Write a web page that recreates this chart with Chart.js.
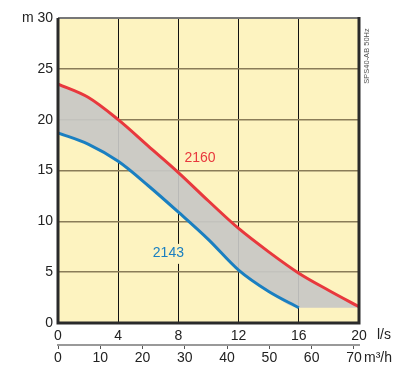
<!DOCTYPE html>
<html>
<head>
<meta charset="utf-8">
<script src="https://cdn.jsdelivr.net/npm/chart.js@4"></script>
<style>
  html, body { margin: 0; padding: 0; background: #fff; }
  canvas { display: block; }
</style>
</head>
<body>
<canvas id="myChart" width="410" height="365"></canvas>
<script>
// flow in l/s
const flow = [0, 2, 4, 6, 8, 10, 12, 14, 16, 18, 20];
const head2160 = [23.5, 22.2, 20.0, 17.4, 14.8, 12.0, 9.3, 7.0, 4.9, 3.2, 1.6];
const flow2143 = [0, 2, 4, 6, 8, 10, 12, 14, 16];
const head2143 = [18.7, 17.6, 15.9, 13.5, 10.9, 8.2, 5.2, 3.1, 1.5];
// lower edge of the grey band after the 2143 curve ends
const bandFlow = [0, 2, 4, 6, 8, 10, 12, 14, 16, 18, 20];
const bandLow = [18.7, 17.6, 15.9, 13.5, 10.9, 8.2, 5.2, 3.1, 1.5, 1.5, 1.5];
// second flow axis, m3/h
const m3hTicks = [0, 10, 20, 30, 40, 50, 60, 70];

const toPts = (xs, ys) => xs.map((x, i) => ({ x: x, y: ys[i] }));

const font = { family: 'Liberation Sans, Arial, sans-serif', size: 14 };

const extras = {
  id: 'extras',
  afterDraw(chart) {
    const ctx = chart.ctx;
    const a = chart.chartArea;
    const x = chart.scales.x;
    const y = chart.scales.y;
    ctx.save();
    // frame
    ctx.strokeStyle = '#777';
    ctx.lineWidth = 2;
    ctx.beginPath();
    ctx.moveTo(a.left, a.top);
    ctx.lineTo(a.right, a.top);
    ctx.stroke();
    ctx.strokeStyle = '#2a2a2a';
    ctx.lineWidth = 3;
    ctx.beginPath();
    ctx.moveTo(a.left, a.top);
    ctx.lineTo(a.left, a.bottom);
    ctx.lineTo(a.right, a.bottom);
    ctx.lineTo(a.right, a.top - 1);
    ctx.stroke();

    // curve names
    ctx.font = '14px Liberation Sans, Arial, sans-serif';
    ctx.textAlign = 'left';
    ctx.textBaseline = 'middle';
    ctx.fillStyle = '#e8383d';
    ctx.fillText('2160', x.getPixelForValue(8.4), y.getPixelForValue(16.2));
    const bx = x.getPixelForValue(6.3), by = y.getPixelForValue(6.9);
    const w = ctx.measureText('2143').width;
    ctx.fillStyle = '#fdf3c0';
    ctx.fillRect(bx - 1, by - 9, w + 2, 20);
    ctx.fillStyle = '#1a7fc1';
    ctx.fillText('2143', bx, by);

    // units
    ctx.fillStyle = '#222';
    ctx.fillText('l/s', a.right + 18, 335);
    ctx.fillText('m\u00b3/h', a.right + 5, 358);

    // model note
    ctx.translate(a.right + 8, 56);
    ctx.rotate(-Math.PI / 2);
    ctx.font = '7.5px Liberation Sans, Arial, sans-serif';
    ctx.fillStyle = '#555';
    ctx.textAlign = 'center';
    ctx.fillText('SPS40-AB 50Hz', 0, 0);
    ctx.restore();
  }
};

const bgPlugin = {
  id: 'bg',
  beforeDraw(chart) {
    const a = chart.chartArea;
    chart.ctx.save();
    chart.ctx.fillStyle = '#fdf3c0';
    chart.ctx.fillRect(a.left, a.top, a.right - a.left, a.bottom - a.top);
    chart.ctx.restore();
  }
};

const config = {
  type: 'line',
  data: {
    datasets: [
      {
        label: '2160',
        data: toPts(flow, head2160),
        borderColor: '#e8383d',
        borderWidth: 3,
        pointRadius: 0,
        cubicInterpolationMode: 'monotone',
        fill: { target: 2, above: 'rgba(200,200,198,0.92)', below: 'rgba(200,200,198,0.92)' },
        order: 1
      },
      {
        label: '2143',
        data: toPts(flow2143, head2143),
        borderColor: '#1a7fc1',
        borderWidth: 3,
        pointRadius: 0,
        cubicInterpolationMode: 'monotone',
        fill: false,
        order: 0
      },
      {
        label: 'band',
        data: toPts(bandFlow, bandLow),
        borderWidth: 0,
        borderColor: 'rgba(0,0,0,0)',
        pointRadius: 0,
        cubicInterpolationMode: 'monotone',
        fill: false,
        order: 2
      }
    ]
  },
  options: {
    responsive: false,
    animation: false,
    layout: { padding: { left: 0, top: 18, right: 51, bottom: 0 } },
    plugins: { legend: { display: false }, tooltip: { enabled: false } },
    scales: {
      x: {
        type: 'linear',
        position: 'bottom',
        min: 0, max: 20,
        afterFit: s => { s.height = 22; },
        grid: { color: '#111', lineWidth: 1, drawTicks: false },
        border: { display: false },
        ticks: { stepSize: 4, padding: 5, color: '#222', font: font, maxRotation: 0, autoSkip: false }
      },
      x2: {
        type: 'linear',
        position: 'bottom',
        min: 0, max: 71.2,
        afterBuildTicks: s => { s.ticks = m3hTicks.map(v => ({ value: v })); },
        afterFit: s => { s.height = 20; },
        grid: { drawOnChartArea: false, drawTicks: true, tickLength: 4, color: '#555', lineWidth: 1 },
        border: { display: true, color: '#999', width: 2 },
        ticks: { padding: 1, color: '#222', font: font, maxRotation: 0, autoSkip: false }
      },
      y: {
        min: 0, max: 30,
        afterFit: s => { s.width = 58; },
        grid: { color: '#8a7c58', lineWidth: 1.5, drawTicks: false },
        border: { display: false },
        ticks: { stepSize: 5, padding: 5, color: '#222', font: font,
          callback: v => (v === 30 ? 'm 30' : v) }
      }
    }
  },
  plugins: [bgPlugin, extras]
};

new Chart(document.getElementById('myChart'), config);
</script>
</body>
</html>
